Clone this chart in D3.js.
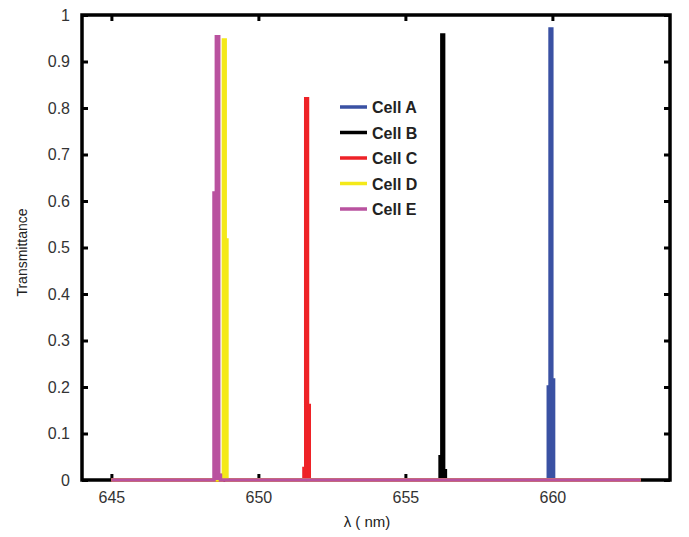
<!DOCTYPE html>
<html>
<head>
<meta charset="utf-8">
<script src="https://cdn.jsdelivr.net/npm/d3@7"></script>
<style>
  html, body { margin: 0; padding: 0; background: #fff; }
  svg { display: block; }
</style>
</head>
<body>
<svg id="chart" width="689" height="537"></svg>
<script>
// ---- data ----
const seriesNames = ["Cell A", "Cell B", "Cell C", "Cell D", "Cell E"];
const seriesColors = ["#3a51a3", "#000000", "#ee2227", "#f4e919", "#b9529f"];

const cellA_wl = [645, 659.83, 659.89, 659.95, 660.01, 660.07, 663];
const cellA_T  = [0,   0,      0.20,   0.97,   0.215,  0,      0];

const cellB_wl = [645, 656.15, 656.21, 656.27, 656.33, 656.39, 663];
const cellB_T  = [0,   0,      0.05,   0.957,  0.02,   0,      0];

const cellC_wl = [645, 651.52, 651.58, 651.64, 651.70, 651.76, 663];
const cellC_T  = [0,   0,      0.025,  0.82,   0.16,   0,      0];

const cellD_wl = [645, 648.72, 648.78, 648.84, 648.90, 648.96, 663];
const cellD_T  = [0,   0,      0.01,   0.946,  0.516,  0,      0];

const cellE_wl = [645, 648.46, 648.52, 648.62, 648.68, 648.74, 663];
const cellE_T  = [0,   0,      0.617,  0.953,  0.01,   0,      0];

const xTicks = [645, 650, 655, 660];
const yTicks = [0, 0.1, 0.2, 0.3, 0.4, 0.5, 0.6, 0.7, 0.8, 0.9, 1];
const xDomain = [644, 664];
const yDomain = [0, 1];

const allWl = [cellA_wl, cellB_wl, cellC_wl, cellD_wl, cellE_wl];
const allT  = [cellA_T, cellB_T, cellC_T, cellD_T, cellE_T];

// ---- layout ----
const svg = d3.select("#chart");
const L = 82, R = 670, T = 15, B = 480;

const x = d3.scaleLinear().domain(xDomain).range([L, R]);
const y = d3.scaleLinear().domain(yDomain).range([B, T]);

const line = d3.line().curve(d3.curveStep).x(d => x(d[0])).y(d => y(d[1]));
const area = d3.area().curve(d3.curveStep).x(d => x(d[0])).y0(y(0)).y1(d => y(d[1]));

const fontFam = "Arial, 'Liberation Sans', Helvetica, sans-serif";

// frame
svg.append("rect")
  .attr("x", L).attr("y", T).attr("width", R - L).attr("height", B - T)
  .attr("fill", "none").attr("stroke", "#000").attr("stroke-width", 3.5);

// axes (MATLAB-style box with inward ticks)
const axisStyle = g => {
  g.select(".domain").remove();
  g.selectAll(".tick line").attr("stroke", "#000").attr("stroke-width", 3);
  g.selectAll(".tick text").attr("font-family", fontFam).attr("font-size", 16).attr("fill", "#333");
};

svg.append("g").attr("transform", `translate(0,${B})`)
  .call(d3.axisBottom(x).tickValues(xTicks).tickSize(-6).tickPadding(12).tickFormat(d3.format("d")))
  .call(axisStyle);
svg.append("g").attr("transform", `translate(0,${T})`)
  .call(d3.axisTop(x).tickValues(xTicks).tickSize(-6).tickFormat(""))
  .call(axisStyle);
svg.append("g").attr("transform", `translate(${L},0)`)
  .call(d3.axisLeft(y).tickValues(yTicks).tickSize(-6).tickPadding(12).tickFormat(d => d === 0 || d === 1 ? d3.format("d")(d) : d3.format(".1f")(d)))
  .call(axisStyle);
svg.append("g").attr("transform", `translate(${R},0)`)
  .call(d3.axisRight(y).tickValues(yTicks).tickSize(-6).tickFormat(""))
  .call(axisStyle);

// series (thick step line, filled underneath so narrow peaks read as solid bars)
allWl.forEach((wl, i) => {
  const pts = wl.map((w, j) => [w, allT[i][j]]);
  svg.append("path")
    .datum(pts)
    .attr("d", area)
    .attr("fill", seriesColors[i])
    .attr("stroke", "none");
  svg.append("path")
    .datum(pts)
    .attr("d", line)
    .attr("fill", "none")
    .attr("stroke", seriesColors[i])
    .attr("stroke-width", 3.5)
    .attr("stroke-linejoin", "miter");
});

// axis labels
svg.append("text")
  .attr("transform", `translate(27,${(T + B) / 2 + 5}) rotate(-90)`)
  .attr("text-anchor", "middle")
  .attr("font-family", fontFam).attr("font-size", 14).attr("fill", "#222")
  .text("Transmittance");

svg.append("text")
  .attr("x", 367).attr("y", 527)
  .attr("text-anchor", "middle")
  .attr("font-family", fontFam).attr("font-size", 15).attr("fill", "#222")
  .text("λ ( nm)");

// legend
const lg = svg.append("g");
seriesNames.forEach((name, i) => {
  const yy = 107 + i * 25.5;
  lg.append("line")
    .attr("x1", 340).attr("x2", 367).attr("y1", yy).attr("y2", yy)
    .attr("stroke", seriesColors[i]).attr("stroke-width", 3.5);
  lg.append("text")
    .attr("x", 372).attr("y", yy + 6)
    .attr("font-family", fontFam).attr("font-size", 16).attr("font-weight", "bold")
    .attr("fill", "#222")
    .text(name);
});
</script>
</body>
</html>
